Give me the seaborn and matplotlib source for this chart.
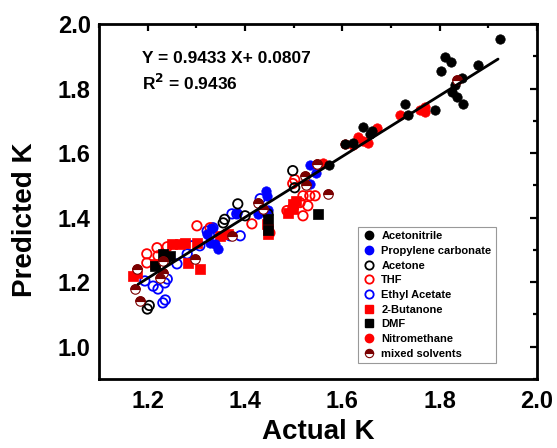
import matplotlib
matplotlib.use("Agg")
import matplotlib.pyplot as plt
from matplotlib.lines import Line2D
from matplotlib.markers import MarkerStyle
from matplotlib.ticker import MultipleLocator
import numpy as np
import pandas as pd
import seaborn as sns

sns.set_theme(style="white")
plt.rcParams["font.family"] = ["Liberation Sans", "DejaVu Sans"]
plt.rcParams["font.weight"] = "bold"
plt.rcParams["text.color"] = "black"
plt.rcParams["axes.labelcolor"] = "black"

# Actual vs predicted K, per solvent
acetonitrile_x = [1.925, 1.810, 1.823, 1.802, 1.878, 1.845, 1.832, 1.825, 1.835, 1.847,
                  1.790, 1.728, 1.735, 1.642, 1.622, 1.605, 1.656, 1.660, 1.572]
acetonitrile_y = [1.955, 1.897, 1.882, 1.855, 1.872, 1.832, 1.810, 1.790, 1.773, 1.754,
                  1.733, 1.754, 1.717, 1.680, 1.633, 1.630, 1.661, 1.670, 1.562]

propylene_x = [1.443, 1.446, 1.427, 1.447, 1.344, 1.328, 1.322, 1.338, 1.332, 1.383,
               1.533, 1.533, 1.545]
propylene_y = [1.484, 1.468, 1.412, 1.425, 1.303, 1.322, 1.350, 1.319, 1.369, 1.415,
               1.562, 1.506, 1.540]

acetone_x = [1.199, 1.203, 1.385, 1.355, 1.358, 1.447, 1.400, 1.502, 1.498, 1.236]
acetone_y = [1.117, 1.128, 1.443, 1.384, 1.395, 1.412, 1.406, 1.493, 1.546, 1.266]

thf_x = [1.198, 1.198, 1.219, 1.221, 1.301, 1.328, 1.414, 1.519, 1.533, 1.544,
         1.513, 1.529, 1.519, 1.498, 1.486, 1.451, 1.498, 1.502, 1.240]
thf_y = [1.288, 1.260, 1.307, 1.282, 1.375, 1.369, 1.381, 1.468, 1.468, 1.468,
         1.447, 1.437, 1.406, 1.428, 1.422, 1.353, 1.506, 1.518, 1.310]

ethyl_x = [1.194, 1.211, 1.221, 1.235, 1.231, 1.236, 1.240, 1.260, 1.281, 1.291,
           1.307, 1.322, 1.334, 1.327, 1.373, 1.383, 1.390, 1.369, 1.431]
ethyl_y = [1.204, 1.188, 1.179, 1.198, 1.136, 1.145, 1.210, 1.257, 1.288, 1.313,
           1.313, 1.359, 1.369, 1.345, 1.412, 1.412, 1.344, 1.344, 1.459]

butanone_x = [1.170, 1.178, 1.215, 1.250, 1.266, 1.277, 1.301, 1.307, 1.282, 1.348,
              1.365, 1.445, 1.447, 1.447, 1.498, 1.498, 1.488, 1.504]
butanone_y = [1.219, 1.229, 1.257, 1.319, 1.319, 1.322, 1.322, 1.241, 1.260, 1.344,
              1.350, 1.381, 1.350, 1.365, 1.443, 1.428, 1.415, 1.453]

dmf_x = [1.215, 1.231, 1.246, 1.447, 1.447, 1.550]
dmf_y = [1.250, 1.288, 1.282, 1.397, 1.362, 1.412]

nitromethane_x = [1.605, 1.632, 1.642, 1.652, 1.671, 1.666, 1.718, 1.759, 1.769, 1.769,
                  1.560, 1.548, 1.622]
nitromethane_y = [1.630, 1.649, 1.639, 1.633, 1.677, 1.668, 1.717, 1.733, 1.727, 1.742,
                  1.571, 1.568, 1.625]

mixed_x = [1.174, 1.184, 1.178, 1.225, 1.231, 1.231, 1.297, 1.373, 1.427, 1.437,
           1.570, 1.523, 1.548, 1.835, 1.525]
mixed_y = [1.179, 1.142, 1.241, 1.213, 1.229, 1.266, 1.272, 1.344, 1.447, 1.428,
           1.475, 1.530, 1.568, 1.826, 1.500]

# Linear fit reported on the chart
slope, intercept, r2 = 0.9433, 0.0807, 0.9436
fit_x = [1.18, 1.92]

fig = plt.figure(figsize=(5.57, 4.48), dpi=100)
ax = fig.add_axes([0.178, 0.154, 0.786, 0.792])

RED = "#ff0000"
BLUE = "#0000ff"
DARK = "#7a0000"
ms = 46

def scatter(xs, ys, **kw):
    sns.scatterplot(x=xs, y=ys, ax=ax, legend=False, **kw)

scatter(ethyl_x, ethyl_y, marker="o", s=ms, facecolor="none", edgecolor=BLUE, linewidth=1.3)
scatter(thf_x, thf_y, marker="o", s=ms, facecolor="none", edgecolor=RED, linewidth=1.3)
scatter(butanone_x, butanone_y, marker="s", s=ms, color=RED, edgecolor=RED, linewidth=0.5)
scatter(propylene_x, propylene_y, marker="o", s=ms, color=BLUE, edgecolor=BLUE, linewidth=0.5)
scatter(acetone_x, acetone_y, marker="o", s=ms, facecolor="none", edgecolor="black", linewidth=1.3)
scatter(dmf_x, dmf_y, marker="s", s=ms, color="black", edgecolor="black", linewidth=0.5)
scatter(nitromethane_x, nitromethane_y, marker="o", s=ms, color=RED, edgecolor=RED, linewidth=0.5)
scatter(acetonitrile_x, acetonitrile_y, marker="o", s=ms, color="black", edgecolor="black", linewidth=0.5)
# half-filled markers: white disc underneath, dark red top half on top
scatter(mixed_x, mixed_y, marker="o", s=ms, facecolor="white", edgecolor=DARK, linewidth=0.8)
scatter(mixed_x, mixed_y, marker=MarkerStyle("o", fillstyle="top"), s=ms,
        color=DARK, edgecolor=DARK, linewidth=0.8)

fit_df = pd.DataFrame({"x": fit_x, "y": [slope * v + intercept for v in fit_x]})
sns.lineplot(data=fit_df, x="x", y="y", ax=ax, color="black", linewidth=2, zorder=5)

ax.set_xlim(1.1, 2.0)
ax.set_ylim(0.9, 2.0)
ax.xaxis.set_major_locator(MultipleLocator(0.2))
ax.xaxis.set_minor_locator(MultipleLocator(0.1))
ax.yaxis.set_major_locator(MultipleLocator(0.2))
ax.yaxis.set_minor_locator(MultipleLocator(0.1))
ax.set_xticks([1.2, 1.4, 1.6, 1.8, 2.0])
ax.set_yticks([1.0, 1.2, 1.4, 1.6, 1.8, 2.0])
ax.tick_params(which="both", direction="in", top=True, right=True, width=1.6,
               colors="black", labelsize=17)
ax.tick_params(which="major", length=5)
ax.tick_params(which="minor", length=3)
ax.tick_params(axis="x", which="major", pad=8)
ax.tick_params(axis="y", which="major", pad=6)
for lab in ax.get_xticklabels() + ax.get_yticklabels():
    lab.set_fontweight("bold")
for sp in ax.spines.values():
    sp.set_color("black")
    sp.set_linewidth(2)

ax.set_xlabel("Actual K", fontsize=20, fontweight="bold", labelpad=4, color="black")
ax.set_ylabel("Predicted K", fontsize=20, fontweight="bold", color="black")
ax.yaxis.set_label_coords(-0.14, 0.45)

ax.text(0.098, 0.925, f"Y = {slope} X+ {intercept}", transform=ax.transAxes,
        fontsize=12.5, fontweight="bold", va="top", ha="left", color="black")
ax.text(0.098, 0.862, f"R$^2$ = {r2}", transform=ax.transAxes,
        fontsize=12.5, fontweight="bold", va="top", ha="left", color="black")

mk = 6
handles = [
    Line2D([], [], ls="none", marker="o", ms=mk, color="black"),
    Line2D([], [], ls="none", marker="o", ms=mk, color=BLUE),
    Line2D([], [], ls="none", marker="o", ms=mk, mfc="none", mec="black", mew=1.3),
    Line2D([], [], ls="none", marker="o", ms=mk, mfc="none", mec=RED, mew=1.3),
    Line2D([], [], ls="none", marker="o", ms=mk, mfc="none", mec=BLUE, mew=1.3),
    Line2D([], [], ls="none", marker="s", ms=mk - 0.5, color=RED),
    Line2D([], [], ls="none", marker="s", ms=mk - 0.5, color="black"),
    Line2D([], [], ls="none", marker="o", ms=mk, color=RED),
    Line2D([], [], ls="none", marker="o", ms=mk, fillstyle="top", mfc=DARK,
           mfcalt="white", mec=DARK, mew=0.8),
]
labels = ["Acetonitrile", "Propylene carbonate", "Acetone", "THF", "Ethyl Acetate",
          "2-Butanone", "DMF", "Nitromethane", "mixed solvents"]
leg = ax.legend(handles, labels, loc="lower left", bbox_to_anchor=(0.591, 0.045),
                prop={"size": 8, "weight": "bold"}, frameon=True, fancybox=False,
                edgecolor="#999999", framealpha=1, borderpad=0.4, labelspacing=0.42,
                handletextpad=0.5, handlelength=1.2, borderaxespad=0, labelcolor="black")
leg.get_frame().set_linewidth(0.8)

fig.savefig("out.png", dpi=100)
